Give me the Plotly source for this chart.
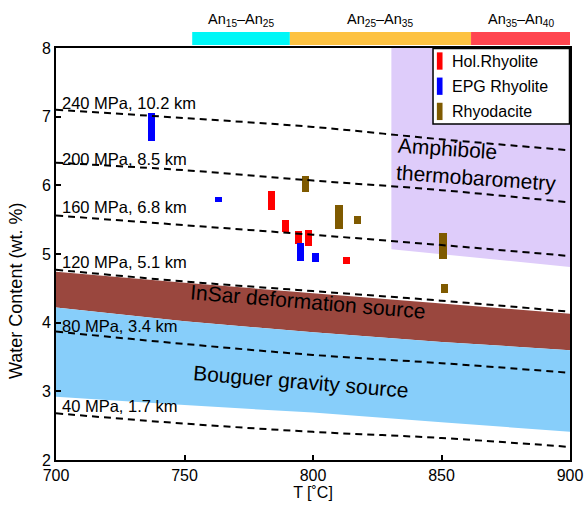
import plotly.graph_objects as go

# ---------------- data ----------------
T_grid = [700, 750, 800, 850, 900]

isobar_names = ["240 MPa, 10.2 km", "200 MPa, 8.5 km", "160 MPa, 6.8 km",
                "120 MPa, 5.1 km", "80 MPa, 3.4 km", "40 MPa, 1.7 km"]
iso_240 = [7.10, 6.98, 6.85, 6.67, 6.51]
iso_200 = [6.33, 6.22, 6.07, 5.93, 5.75]
iso_160 = [5.56, 5.42, 5.28, 5.13, 4.97]
iso_120 = [4.77, 4.60, 4.46, 4.32, 4.16]
iso_80 = [3.87, 3.69, 3.53, 3.41, 3.27]
iso_40 = [2.68, 2.53, 2.41, 2.32, 2.19]
isobars = [iso_240, iso_200, iso_160, iso_120, iso_80, iso_40]
iso_label_y = [7.20, 6.39, 5.69, 4.89, 3.95, 2.78]

insar_top = [4.74, 4.58, 4.43, 4.28, 4.13]
insar_bottom = [4.22, 4.02, 3.86, 3.72, 3.60]
bouguer_top = insar_bottom
bouguer_bottom = [2.92, 2.80, 2.69, 2.55, 2.41]

amph_T = [830.5, 900]
amph_top = [8.0, 8.0]
amph_bottom = [5.07, 4.81]

series_names = ["Hol.Rhyolite", "EPG Rhyolite", "Rhyodacite"]
series_colors = ["rgb(255,0,0)", "rgb(0,0,255)", "rgb(127,90,0)"]

hol_T = [783.9, 789.4, 794.3, 798.3, 813.1]
hol_lo = [5.64, 5.32, 5.15, 5.12, 4.85]
hol_hi = [5.92, 5.49, 5.34, 5.35, 4.95]

epg_T = [737.1, 763.2, 795.1, 801.0]
epg_lo = [6.65, 5.76, 4.90, 4.88]
epg_hi = [7.05, 5.83, 5.16, 5.02]

rd_T = [797.0, 810.1, 817.3, 850.5, 851.2]
rd_lo = [5.90, 5.36, 5.43, 4.93, 4.43]
rd_hi = [6.13, 5.72, 5.55, 5.31, 4.57]

an_edges = [753, 791, 861.5, 900]
an_labels = ["An<sub>15</sub>–An<sub>25</sub>", "An<sub>25</sub>–An<sub>35</sub>",
             "An<sub>35</sub>–An<sub>40</sub>"]
an_colors = ["#00f7f7", "#fdc242", "#ff4650"]

# ---------------- figure ----------------
FONT = "Liberation Sans, Arial, Helvetica, sans-serif"
fig = go.Figure()


def band_path(xs, top, bottom):
    pts = list(zip(xs, top)) + list(zip(xs[::-1], bottom[::-1]))
    return "M " + " L ".join(f"{x},{y}" for x, y in pts) + " Z"


shapes = [
    dict(type="path", xref="x", yref="y", layer="below", line=dict(width=0),
         fillcolor="rgb(222,204,250)", path=band_path(amph_T, amph_top, amph_bottom)),
    dict(type="path", xref="x", yref="y", layer="below", line=dict(width=0),
         fillcolor="rgb(154,71,62)", path=band_path(T_grid, insar_top, insar_bottom)),
    dict(type="path", xref="x", yref="y", layer="below", line=dict(width=0),
         fillcolor="rgb(135,206,250)", path=band_path(T_grid, bouguer_top, bouguer_bottom)),
]

# isobars
for name, vals in zip(isobar_names, isobars):
    fig.add_trace(go.Scatter(
        x=T_grid, y=vals, mode="lines",
        line=dict(color="black", width=2, dash="7px,5px", shape="spline"),
        showlegend=False, hoverinfo="skip"))


def add_bars(name, T, lo, hi, color, width):
    fig.add_trace(go.Bar(
        name=name, x=T, y=[h - l for h, l in zip(hi, lo)], base=lo, width=width,
        marker=dict(color=color, line=dict(width=0)), showlegend=False))


add_bars(series_names[0], hol_T, hol_lo, hol_hi, series_colors[0], 2.6)
add_bars(series_names[1], epg_T, epg_lo, epg_hi, series_colors[1], 2.7)
add_bars(series_names[2], rd_T, rd_lo, rd_hi, series_colors[2], 2.9)

annotations = []
for name, ly in zip(isobar_names, iso_label_y):
    annotations.append(dict(x=701.5, y=ly, xref="x", yref="y", text=name, showarrow=False,
                            xanchor="left", yanchor="middle",
                            font=dict(size=16.5, color="black", family=FONT)))

annotations.append(dict(x=798, y=4.31, xref="x", yref="y", text="InSar deformation source",
                        showarrow=False, textangle=4.7, font=dict(size=21, color="black", family=FONT)))
annotations.append(dict(x=795.5, y=3.15, xref="x", yref="y", text="Bouguer gravity source",
                        showarrow=False, textangle=4.7, font=dict(size=21, color="black", family=FONT)))
annotations.append(dict(x=864, y=6.31, xref="x", yref="y", text="Amphibole<br>thermobarometry",
                        showarrow=False, textangle=4, align="left",
                        font=dict(size=21, color="black", family=FONT)))

# y axis title
annotations.append(dict(x=-0.078, y=0.41, xref="paper", yref="paper", text="Water Content (wt. %)",
                        showarrow=False, textangle=-90, xanchor="center", yanchor="middle",
                        font=dict(size=18, color="black", family=FONT)))

# plagioclase composition bar on top
for i in range(3):
    shapes.append(dict(type="rect", xref="x", yref="paper", x0=an_edges[i], x1=an_edges[i + 1],
                       y0=1.007, y1=1.039, fillcolor=an_colors[i], line=dict(width=0), layer="above"))
    annotations.append(dict(x=(an_edges[i] + an_edges[i + 1]) / 2, y=1.042, xref="x", yref="paper",
                            text=an_labels[i], showarrow=False, yanchor="bottom",
                            font=dict(size=14.5, color="black", family=FONT)))

# legend box (drawn in paper coordinates)
leg_x0, leg_x1, leg_y0, leg_y1 = 0.7335, 0.999, 0.8155, 0.999
shapes.append(dict(type="rect", xref="paper", yref="paper", x0=leg_x0, x1=leg_x1, y0=leg_y0, y1=leg_y1,
                   fillcolor="white", line=dict(color="black", width=1.5), layer="above"))
row_h = (leg_y1 - leg_y0) / 3
for i, (name, color) in enumerate(zip(series_names, series_colors)):
    yc = leg_y1 - row_h * (i + 0.5)
    shapes.append(dict(type="rect", xref="paper", yref="paper", x0=leg_x0 + 0.0075, x1=leg_x0 + 0.0185,
                       y0=yc - 0.021, y1=yc + 0.021, fillcolor=color, line=dict(width=0), layer="above"))
    annotations.append(dict(x=leg_x0 + 0.034, y=yc, xref="paper", yref="paper", text=name,
                            showarrow=False, xanchor="left", yanchor="middle",
                            font=dict(size=16, color="black", family=FONT)))

fig.update_layout(
    width=587, height=506,
    margin=dict(l=56, r=17, t=48, b=46, autoexpand=False),
    plot_bgcolor="white", paper_bgcolor="white",
    font=dict(family=FONT, size=16, color="black"),
    barmode="overlay", bargap=0,
    shapes=shapes, annotations=annotations,
    showlegend=False,
    xaxis=dict(range=[700, 900], tickvals=[700, 750, 800, 850, 900], showgrid=False, zeroline=False,
               showline=True, linecolor="black", linewidth=2, mirror=True, ticks="inside",
               ticklen=5, tickwidth=1.5, tickcolor="black", automargin=False,
               title=dict(text="T [˚C]", standoff=4, font=dict(size=16))),
    yaxis=dict(range=[2, 8], tickvals=[2, 3, 4, 5, 6, 7, 8], showgrid=False, zeroline=False,
               showline=True, linecolor="black", linewidth=2, mirror=True, ticks="inside",
               ticklen=5, tickwidth=1.5, tickcolor="black", automargin=False),
)

fig.write_html("out.html")
